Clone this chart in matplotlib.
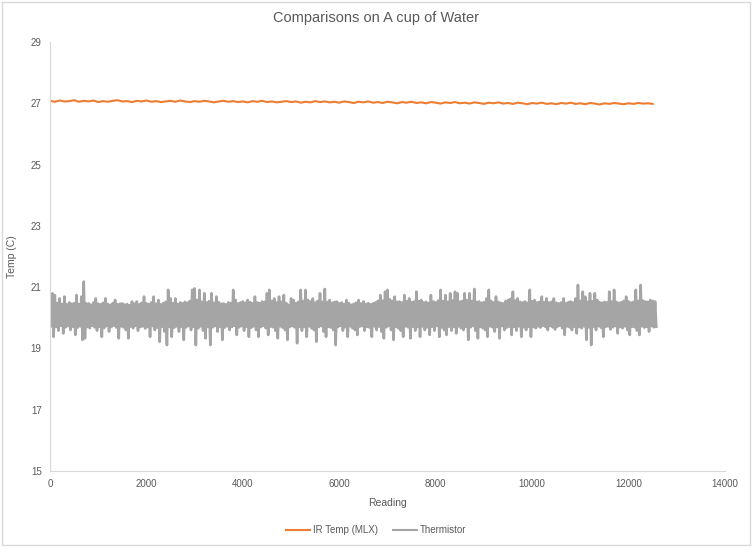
import matplotlib
matplotlib.use("Agg")
import matplotlib.pyplot as plt
from matplotlib.patches import Rectangle

plt.rcParams['font.family'] = ['Liberation Sans Narrow', 'Liberation Sans', 'DejaVu Sans']

# IR sensor readings, one value every 100 readings
ir_step = 100
ir_temp = [
    27.08, 27.05, 27.09, 27.06, 27.07, 27.10, 27.05, 27.08, 27.06, 27.09,
    27.04, 27.07, 27.05, 27.08, 27.10, 27.06, 27.07, 27.04, 27.08, 27.06,
    27.09, 27.05, 27.07, 27.04, 27.06, 27.08, 27.05, 27.09, 27.06, 27.04,
    27.07, 27.05, 27.08, 27.06, 27.03, 27.06, 27.08, 27.05, 27.07, 27.04,
    27.06, 27.03, 27.07, 27.05, 27.08, 27.04, 27.06, 27.03, 27.05, 27.07,
    27.04, 27.06, 27.02, 27.05, 27.03, 27.07, 27.04, 27.06, 27.03, 27.05,
    27.02, 27.06, 27.04, 27.01, 27.05, 27.03, 27.06, 27.02, 27.04, 27.01,
    27.05, 27.03, 27.00, 27.04, 27.02, 27.05, 27.01, 27.03, 27.00, 27.04,
    27.02, 26.99, 27.03, 27.01, 27.04, 27.00, 27.02, 26.99, 27.03, 27.01,
    26.98, 27.02, 27.00, 27.03, 26.99, 27.01, 26.98, 27.02, 27.00, 26.97,
    27.01, 26.99, 27.02, 26.98, 27.00, 26.97, 27.01, 26.99, 27.02, 26.98,
    27.00, 26.97, 27.01, 26.99, 26.96, 27.00, 26.98, 27.01, 26.99, 26.97,
    27.00, 26.98, 27.01, 26.99, 27.00, 26.98,
]

# thermistor readings: high / low swing in each block of 50 readings
th_step = 50
th_high = [
    20.62, 20.80, 20.74, 20.48, 20.63, 20.45, 20.69, 20.44, 20.50, 20.46,
    20.48, 20.74, 20.45, 20.69, 21.18, 20.47, 20.47, 20.43, 20.50, 20.63,
    20.46, 20.44, 20.49, 20.63, 20.45, 20.42, 20.48, 20.58, 20.44, 20.46,
    20.47, 20.43, 20.45, 20.41, 20.53, 20.46, 20.53, 20.44, 20.49, 20.69,
    20.47, 20.45, 20.50, 20.69, 20.46, 20.58, 20.44, 20.48, 20.52, 20.91,
    20.63, 20.48, 20.63, 20.45, 20.50, 20.47, 20.52, 20.49, 20.55, 20.91,
    20.96, 20.58, 20.91, 20.52, 20.80, 20.50, 20.54, 20.80, 20.49, 20.69,
    20.51, 20.46, 20.47, 20.44, 20.50, 20.48, 20.91, 20.58, 20.47, 20.50,
    20.53, 20.49, 20.58, 20.51, 20.47, 20.69, 20.50, 20.48, 20.53, 20.52,
    20.80, 20.91, 20.55, 20.63, 20.50, 20.69, 20.52, 20.74, 20.48, 20.42,
    20.63, 20.58, 20.48, 20.52, 20.91, 20.55, 20.91, 20.58, 20.53, 20.63,
    20.50, 20.55, 20.80, 20.52, 20.94, 20.51, 20.58, 20.49, 20.52, 20.53,
    20.47, 20.50, 20.45, 20.58, 20.48, 20.42, 20.46, 20.49, 20.58, 20.47,
    20.53, 20.45, 20.48, 20.44, 20.47, 20.50, 20.55, 20.74, 20.56, 20.85,
    20.91, 20.60, 20.55, 20.69, 20.52, 20.53, 20.50, 20.74, 20.54, 20.63,
    20.51, 20.53, 20.85, 20.55, 20.58, 20.50, 20.52, 20.48, 20.74, 20.53,
    20.50, 20.56, 20.91, 20.54, 20.74, 20.52, 20.80, 20.56, 20.85, 20.80,
    20.53, 20.55, 20.80, 20.57, 20.80, 20.55, 20.94, 20.52, 20.53, 20.49,
    20.51, 20.63, 20.91, 20.55, 20.50, 20.69, 20.52, 20.49, 20.47, 20.55,
    20.58, 20.62, 20.85, 20.56, 20.63, 20.52, 20.50, 20.53, 20.49, 20.91,
    20.54, 20.58, 20.50, 20.52, 20.69, 20.51, 20.63, 20.50, 20.52, 20.63,
    20.49, 20.47, 20.50, 20.63, 20.48, 20.51, 20.53, 20.50, 20.63, 21.07,
    20.55, 20.85, 20.69, 20.52, 20.80, 20.54, 20.80, 20.58, 20.51, 20.49,
    20.52, 20.50, 20.85, 20.53, 20.91, 20.52, 20.49, 20.51, 20.55, 20.69,
    20.53, 20.50, 20.52, 20.91, 20.55, 21.07, 20.56, 20.53, 20.52, 20.58,
    20.55, 20.53,
]
th_low = [
    19.72, 19.38, 19.70, 19.58, 19.74, 19.49, 19.69, 19.73, 19.60, 19.71,
    19.44, 19.68, 19.72, 19.28, 19.33, 19.70, 19.66, 19.74, 19.69, 19.58,
    19.71, 19.38, 19.67, 19.73, 19.55, 19.70, 19.74, 19.68, 19.33, 19.72,
    19.69, 19.60, 19.33, 19.71, 19.66, 19.74, 19.58, 19.70, 19.72, 19.65,
    19.70, 19.38, 19.73, 19.60, 19.68, 19.22, 19.71, 19.55, 19.11, 19.70,
    19.38, 19.68, 19.72, 19.55, 19.70, 19.28, 19.69, 19.73, 19.60, 19.71,
    19.11, 19.66, 19.72, 19.58, 19.33, 19.70, 19.11, 19.69, 19.73, 19.55,
    19.71, 19.28, 19.68, 19.72, 19.60, 19.70, 19.74, 19.44, 19.69, 19.73,
    19.58, 19.71, 19.38, 19.68, 19.72, 19.60, 19.38, 19.70, 19.74, 19.66,
    19.44, 19.71, 19.69, 19.58, 19.33, 19.72, 19.68, 19.60, 19.28, 19.70,
    19.73, 19.69, 19.17, 19.71, 19.58, 19.70, 19.38, 19.72, 19.66, 19.60,
    19.22, 19.70, 19.73, 19.55, 19.38, 19.71, 19.68, 19.60, 19.11, 19.70,
    19.74, 19.58, 19.69, 19.38, 19.72, 19.66, 19.60, 19.44, 19.71, 19.73,
    19.58, 19.70, 19.68, 19.38, 19.72, 19.60, 19.71, 19.55, 19.33, 19.69,
    19.73, 19.60, 19.28, 19.70, 19.66, 19.58, 19.38, 19.72, 19.69, 19.33,
    19.71, 19.58, 19.70, 19.38, 19.72, 19.60, 19.69, 19.44, 19.71, 19.58,
    19.73, 19.38, 19.68, 19.60, 19.44, 19.71, 19.58, 19.70, 19.49, 19.72,
    19.66, 19.60, 19.70, 19.28, 19.69, 19.73, 19.58, 19.33, 19.71, 19.66,
    19.60, 19.38, 19.72, 19.69, 19.55, 19.70, 19.33, 19.73, 19.60, 19.68,
    19.71, 19.44, 19.70, 19.58, 19.72, 19.38, 19.69, 19.60, 19.71, 19.38,
    19.70, 19.66, 19.72, 19.68, 19.74, 19.70, 19.60, 19.73, 19.69, 19.62,
    19.71, 19.74, 19.66, 19.44, 19.72, 19.69, 19.60, 19.71, 19.49, 19.70,
    19.66, 19.72, 19.28, 19.69, 19.11, 19.71, 19.60, 19.73, 19.68, 19.38,
    19.70, 19.72, 19.62, 19.69, 19.73, 19.49, 19.70, 19.66, 19.72, 19.60,
    19.44, 19.71, 19.69, 19.58, 19.44, 19.72, 19.68, 19.70, 19.55, 19.73,
    19.69, 19.71,
]

title = 'Comparisons on A cup of Water'
x_label = 'Reading'
y_label = 'Temp (C)'
ir_name = 'IR Temp (MLX)'
th_name = 'Thermistor'

ir_x = [i * ir_step for i in range(len(ir_temp))]
th_x = []
th_y = []
for i in range(len(th_high)):
    th_x += [i * th_step, i * th_step + th_step / 2]
    th_y += [th_high[i], th_low[i]]

txt = '#595959'
fig = plt.figure(figsize=(7.52, 5.47), dpi=100)
ax = fig.add_axes([50 / 752, 1 - 471 / 547, 675 / 752, 429 / 547])

ax.plot(ir_x, ir_temp, color='#ED7D31', lw=1.5, label=ir_name)
ax.plot(th_x, th_y, color='#A5A5A5', lw=1.9, label=th_name)

ax.set_xlim(0, 14000)
ax.set_ylim(15, 29)
ax.set_xticks(range(0, 14001, 2000))
ax.set_yticks(range(15, 30, 2))
ax.tick_params(length=0, labelsize=7, colors=txt, pad=6)
for s in ['top', 'right']:
    ax.spines[s].set_visible(False)
for s in ['left', 'bottom']:
    ax.spines[s].set_color('#D9D9D9')
    ax.spines[s].set_linewidth(0.8)

ax.set_xlabel(x_label, fontsize=7.5, color=txt, labelpad=6)
ax.set_ylabel(y_label, fontsize=7.5, color=txt, labelpad=10)
fig.text(0.5, 1 - 18 / 547, title, ha='center', va='center', fontsize=10.5, color=txt)

leg = fig.legend(loc='center', bbox_to_anchor=(0.5, 1 - 530 / 547), ncol=2,
                 frameon=False, fontsize=7, handlelength=2.5, columnspacing=1.5,
                 handletextpad=0.3)
for t in leg.get_texts():
    t.set_color(txt)
for h in leg.get_lines():
    h.set_linewidth(1.5)

# chart area border
fig.patches.append(Rectangle((0.003, 0.004), 0.994, 0.992, transform=fig.transFigure,
                             fill=False, edgecolor='#D9D9D9', lw=1))

fig.savefig('out.png', dpi=100)
